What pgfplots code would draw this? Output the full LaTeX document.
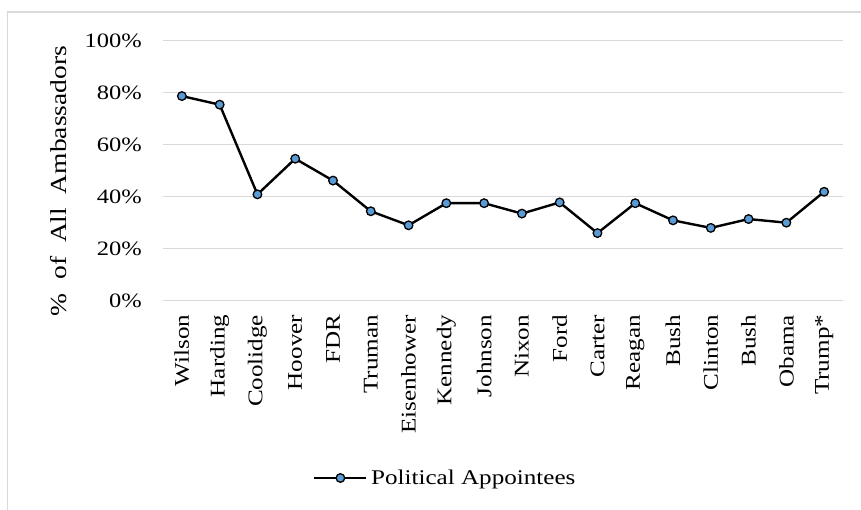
\documentclass[border=0pt]{standalone}
\usepackage{pgfplots}
\pgfplotsset{compat=1.18}
\usepackage{fontspec}
\setmainfont{Liberation Serif}[FakeStretch=1.2]
\definecolor{gridgray}{HTML}{D9D9D9}
\definecolor{markblue}{HTML}{5B9BD5}
\begin{document}
\begin{tikzpicture}[x=1bp,y=1bp]
\useasboundingbox (0,0) rectangle (861,510);
\draw[gridgray, line width=1.2bp] (7.5,0) -- (7.5,498) -- (861,498);
\begin{axis}[
  at={(163bp,209.3bp)}, anchor=south west,
  scale only axis, width=680bp, height=260bp,
  xmin=-0.5, xmax=17.5, ymin=0, ymax=100,
  clip=false,
  axis line style={draw=none},
  major tick length=0pt,
  ymajorgrids,
  grid style={gridgray, line width=1.5bp},
  ytick={0,20,40,60,80,100},
  yticklabels={0\%,20\%,40\%,60\%,80\%,100\%},
  yticklabel style={anchor=east, inner sep=0pt, xshift=-21bp, font=\fontsize{20.5}{20.5}\selectfont},
  xtick={0,...,17},
  xticklabels={Wilson,Harding,Coolidge,Hoover,FDR,Truman,Eisenhower,Kennedy,Johnson,Nixon,Ford,Carter,Reagan,Bush,Clinton,Bush,Obama,Trump*},
  xticklabel style={yshift=-14bp, rotate=90, anchor=east, inner sep=0pt, font=\fontsize{21}{21}\selectfont},
  ylabel={\%~ of~ All~ Ambassadors},
  ylabel style={at={(axis description cs:-0.154,0.46)}, anchor=center, font=\fontsize{23}{23}\selectfont},
  legend style={at={(axis description cs:0.2206,-0.682)}, anchor=west, draw=none, fill=none, inner sep=0pt,
    font=\fontsize{21}{21}\selectfont, nodes={inner xsep=3.5bp}},
  legend image code/.code={\draw[mark repeat=2,mark phase=2,#1] plot coordinates {(0bp,0bp) (26bp,0bp) (52bp,0bp)};},
]
\addplot[black, line width=2.4bp, mark=*, mark size=4.3bp,
  mark options={fill=markblue, draw=black, line width=1.3bp}]
  coordinates {
  (0,78.7) (1,75.4) (2,40.9) (3,54.6) (4,46.2) (5,34.4) (6,29.0) (7,37.5) (8,37.5)
  (9,33.5) (10,37.8) (11,26.0) (12,37.5) (13,30.9) (14,28.0) (15,31.4) (16,30.0) (17,41.9)
  };
\addlegendentry{Political Appointees}
\end{axis}
\end{tikzpicture}
\end{document}
